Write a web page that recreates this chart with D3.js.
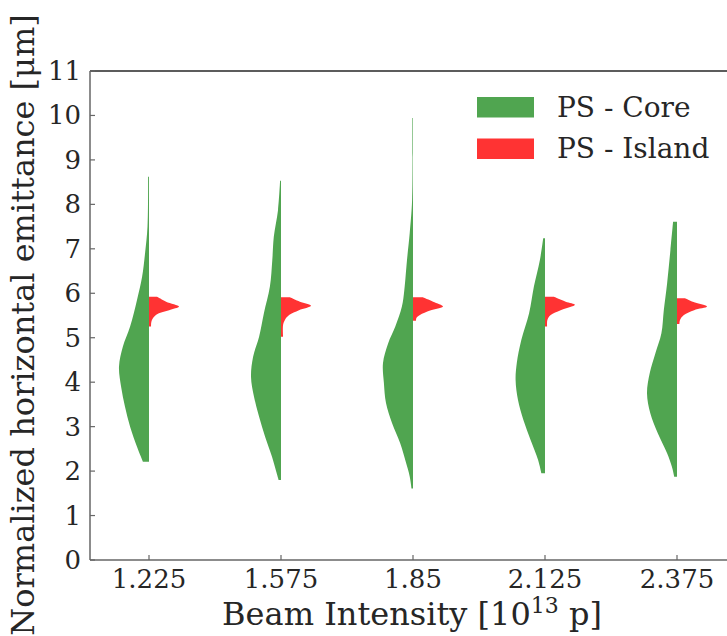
<!DOCTYPE html>
<html>
<head>
<meta charset="utf-8">
<script src="https://cdn.jsdelivr.net/npm/d3@7"></script>
<style>
  html, body { margin: 0; padding: 0; background: #fff; }
  svg text { font-family: "DejaVu Serif", serif; fill: #262626; }
</style>
</head>
<body>
<svg id="chart" width="727" height="636"></svg>
<script>
// Beam intensity categories (units of 1e13 protons)
const categories = ["1.225", "1.575", "1.85", "2.125", "2.375"];

// Normalised KDE profiles: [emittance µm, relative density 0..1]
const coreProfiles = [
  [[2.21,0.20],[2.55,0.40],[3.00,0.63],[3.45,0.80],[3.90,0.93],[4.35,1.00],[4.80,0.87],[5.25,0.63],[5.85,0.40],[6.37,0.23],[6.91,0.13],[7.50,0.05],[8.62,0.03]],
  [[1.80,0.08],[1.99,0.16],[2.32,0.30],[2.77,0.53],[3.22,0.73],[3.67,0.90],[4.12,1.00],[4.57,0.93],[5.02,0.73],[5.55,0.57],[6.15,0.37],[6.75,0.29],[7.27,0.24],[7.87,0.10],[8.53,0.03]],
  [[1.61,0.05],[1.88,0.11],[2.18,0.23],[2.63,0.43],[3.08,0.70],[3.53,0.90],[3.98,0.97],[4.43,1.00],[4.87,0.83],[5.25,0.59],[5.70,0.37],[6.07,0.29],[6.75,0.20],[7.35,0.11],[8.10,0.03],[9.94,0.02]],
  [[1.95,0.12],[2.25,0.23],[2.70,0.48],[3.15,0.72],[3.60,0.90],[4.05,0.98],[4.43,0.94],[4.95,0.79],[5.55,0.53],[6.15,0.37],[6.75,0.17],[7.24,0.06]],
  [[1.87,0.09],[2.10,0.17],[2.40,0.33],[2.85,0.64],[3.30,0.89],[3.75,1.00],[4.20,0.91],[4.65,0.72],[5.10,0.52],[5.62,0.44],[6.22,0.33],[6.97,0.22],[7.61,0.13]]
];

const islandProfiles = [
  [[5.25,0.07],[5.36,0.08],[5.47,0.17],[5.55,0.33],[5.62,0.67],[5.70,1.00],[5.81,0.57],[5.92,0.27]],
  [[5.02,0.07],[5.29,0.07],[5.40,0.13],[5.51,0.27],[5.62,0.60],[5.72,1.00],[5.81,0.63],[5.91,0.30]],
  [[5.38,0.10],[5.44,0.11],[5.51,0.23],[5.61,0.57],[5.70,1.00],[5.81,0.67],[5.91,0.33]],
  [[5.25,0.07],[5.40,0.08],[5.51,0.19],[5.62,0.52],[5.74,1.00],[5.81,0.69],[5.92,0.30]],
  [[5.31,0.08],[5.40,0.10],[5.51,0.23],[5.62,0.57],[5.70,1.00],[5.79,0.60],[5.89,0.27]]
];

const yTicks = [0,1,2,3,4,5,6,7,8,9,10,11];
const seriesNames = ["PS - Core", "PS - Island"];
const seriesColors = ["#50a550", "#ff3333"];

const svg = d3.select("#chart");
const plotLeft = 90, plotTop = 71, plotBottom = 560;
const step = 132;
const firstCenter = 149;

// categorical positions on a linear index scale
const x = d3.scaleLinear()
  .domain([0, categories.length - 1])
  .range([firstCenter, firstCenter + step * (categories.length - 1)]);
const plotRight = x(categories.length - 1) + (firstCenter - plotLeft);

const y = d3.scaleLinear().domain([0, 11]).range([plotBottom, plotTop]);
const halfWidth = d3.scaleLinear().domain([0, 1]).range([0, 30]);

// violins
const plot = svg.append("g");
function half(i, profile, side, color) {
  const cx = x(i);
  const area = d3.area()
    .curve(d3.curveCatmullRom.alpha(0.5))
    .y(d => y(d[0]))
    .x0(cx)
    .x1(d => cx + side * halfWidth(d[1]));
  plot.append("path")
    .datum(profile)
    .attr("d", area)
    .attr("fill", color)
    .attr("stroke", "none");
}
categories.forEach((c, i) => {
  half(i, coreProfiles[i], -1, seriesColors[0]);
  half(i, islandProfiles[i], 1, seriesColors[1]);
});

// spines
svg.append("line").attr("x1", plotLeft).attr("x2", plotRight).attr("y1", plotTop).attr("y2", plotTop)
  .attr("stroke", "#262626").attr("stroke-width", 1.3);
svg.append("line").attr("x1", plotLeft).attr("x2", plotLeft).attr("y1", plotTop).attr("y2", plotBottom)
  .attr("stroke", "#666").attr("stroke-width", 1.5);
svg.append("line").attr("x1", plotLeft).attr("x2", plotRight).attr("y1", plotBottom).attr("y2", plotBottom)
  .attr("stroke", "#666").attr("stroke-width", 1.5);

// y axis ticks (inward) and labels
const yAxis = svg.append("g");
yTicks.forEach(t => {
  yAxis.append("line").attr("x1", plotLeft).attr("x2", plotLeft + 5)
    .attr("y1", y(t)).attr("y2", y(t)).attr("stroke", "#666").attr("stroke-width", 1.2);
  yAxis.append("text").attr("x", plotLeft - 9).attr("y", y(t))
    .attr("text-anchor", "end").attr("dominant-baseline", "central")
    .attr("font-size", 26).text(t);
});

// x axis ticks (inward) and labels
const xAxis = svg.append("g");
categories.forEach((c, i) => {
  xAxis.append("line").attr("x1", x(i)).attr("x2", x(i))
    .attr("y1", plotBottom).attr("y2", plotBottom - 5).attr("stroke", "#666").attr("stroke-width", 1.2);
  xAxis.append("text").attr("x", x(i)).attr("y", plotBottom + 28)
    .attr("text-anchor", "middle").attr("font-size", 26).text(c);
});

// axis titles
const xTitle = svg.append("text").attr("x", 412).attr("y", 625)
  .attr("text-anchor", "middle").attr("font-size", 32);
xTitle.append("tspan").text("Beam Intensity [10");
xTitle.append("tspan").attr("font-size", 22).attr("dy", -12).text("13");
xTitle.append("tspan").attr("dy", 12).text(" p]");

svg.append("text")
  .attr("transform", "translate(34,325) rotate(-90)")
  .attr("text-anchor", "middle").attr("font-size", 32)
  .text("Normalized horizontal emittance [μm]");

// legend
const legend = svg.append("g");
seriesNames.forEach((name, i) => {
  const ly = 97 + i * 41.5;
  legend.append("rect").attr("x", 477).attr("y", ly).attr("width", 57).attr("height", 20.5)
    .attr("fill", seriesColors[i]);
  legend.append("text").attr("x", 557).attr("y", ly + 19.5)
    .attr("font-size", 28).text(name);
});
</script>
</body>
</html>
